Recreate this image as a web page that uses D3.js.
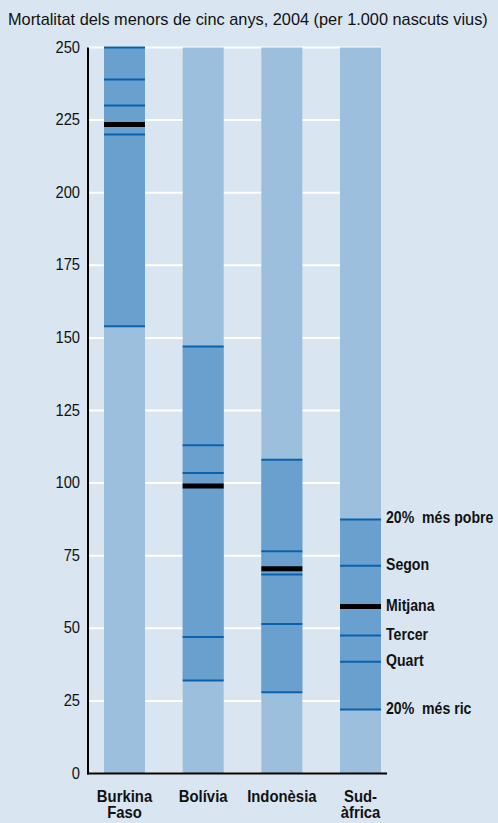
<!DOCTYPE html>
<html>
<head>
<meta charset="utf-8">
<script src="https://cdn.jsdelivr.net/npm/d3@7"></script>
<style>
  body { margin: 0; background: #d9e6f1; }
  svg text { font-family: "Liberation Sans Narrow", "Arial Narrow", "Liberation Sans", sans-serif; fill: #111; }
</style>
</head>
<body>
<div id="chart"></div>
<script>
var categories = ["Burkina Faso", "Bolívia", "Indonèsia", "Sud-àfrica"];
var categoryLines = [["Burkina", "Faso"], ["Bolívia"], ["Indonèsia"], ["Sud-", "àfrica"]];
var poorest = [250, 147, 108, 87.5];
var second = [239, 113, 76.5, 71.5];
var third = [230, 103.5, 68.5, 47.5];
var fourth = [220, 47, 51.5, 38.5];
var richest = [154, 32, 28, 22];
var mean = [223.5, 99, 70.5, 57.5];
var yTicks = [0, 25, 50, 75, 100, 125, 150, 175, 200, 225, 250];
var groupLabels = ["20%  més pobre", "Segon", "Mitjana", "Tercer", "Quart", "20%  més ric"];

var W = 498, H = 823;
var svg = d3.select("#chart").append("svg")
    .attr("width", W)
    .attr("height", H);

// condensed-looking text: put it in a group squeezed along x
function squeezed(parent, px, py, f) {
    return parent.append("g")
        .attr("transform", "translate(" + px + "," + py + ") scale(" + f + ",1)")
        .append("text");
}

svg.append("rect").attr("width", W).attr("height", H).attr("fill", "#d9e6f1");

var title = squeezed(svg, 8, 25, 1)
    .style("font-size", "17px")
    .text("Mortalitat dels menors de cinc anys, 2004 (per 1.000 nascuts vius)");
var tl = title.node().getComputedTextLength();
d3.select(title.node().parentNode).attr("transform", "translate(8,25) scale(" + (480 / tl) + ",1)");

var y = d3.scaleLinear().domain([0, 250]).range([773.5, 47.5]);
var x = d3.scalePoint().domain(categories).range([124.5, 360.5]);
var bw = 41;

// gridlines
svg.selectAll("line.grid")
    .data(yTicks)
    .enter()
    .append("line")
    .attr("class", "grid")
    .attr("x1", 88)
    .attr("x2", 381)
    .attr("y1", function (d) { return y(d); })
    .attr("y2", function (d) { return y(d); })
    .attr("stroke", "#fff")
    .attr("stroke-width", 2);

// full bars
svg.selectAll("rect.full")
    .data(categories)
    .enter()
    .append("rect")
    .attr("class", "full")
    .attr("x", function (d) { return x(d) - bw / 2; })
    .attr("y", y(250))
    .attr("width", bw)
    .attr("height", y(0) - y(250))
    .attr("fill", "#9bbfdd");

// range between quintiles
svg.selectAll("rect.range")
    .data(categories)
    .enter()
    .append("rect")
    .attr("class", "range")
    .attr("x", function (d) { return x(d) - bw / 2; })
    .attr("y", function (d, i) { return y(poorest[i]); })
    .attr("width", bw)
    .attr("height", function (d, i) { return y(richest[i]) - y(poorest[i]); })
    .attr("fill", "#69a0cd");

var quintiles = [poorest, second, third, fourth, richest];
categories.forEach(function (c, i) {
    quintiles.forEach(function (q) {
        svg.append("line")
            .attr("x1", x(c) - bw / 2)
            .attr("x2", x(c) + bw / 2)
            .attr("y1", y(q[i]))
            .attr("y2", y(q[i]))
            .attr("stroke", "#0b62ac")
            .attr("stroke-width", 2);
    });
    svg.append("line")
        .attr("x1", x(c) - bw / 2)
        .attr("x2", x(c) + bw / 2)
        .attr("y1", y(mean[i]))
        .attr("y2", y(mean[i]))
        .attr("stroke", "#000")
        .attr("stroke-width", 5);
});

// y axis labels, drawn from the scale's ticks
var yAxis = d3.axisLeft(y).tickValues(yTicks).tickSize(0).tickPadding(0);
var gy = svg.append("g").attr("transform", "translate(80,0)").call(yAxis);
gy.select(".domain").remove();
gy.selectAll(".tick").attr("transform", function (d) { return "translate(0," + y(d) + ") scale(0.92,1)"; });
gy.selectAll("text").attr("x", 0).style("font-size", "16px").style("font-family", null).style("fill", "#111");

svg.append("line")
    .attr("x1", 88).attr("x2", 88)
    .attr("y1", y(250)).attr("y2", y(0) + 1)
    .attr("stroke", "#000").attr("stroke-width", 2);
svg.append("line")
    .attr("x1", 87).attr("x2", 387)
    .attr("y1", y(0)).attr("y2", y(0))
    .attr("stroke", "#000").attr("stroke-width", 2);

// category labels
categories.forEach(function (c, i) {
    categoryLines[i].forEach(function (l, j) {
        squeezed(svg, x(c), 802 + j * 16, 0.93)
            .attr("text-anchor", "middle")
            .style("font-size", "16px")
            .style("font-weight", "bold")
            .text(l);
    });
});

// group labels beside last bar
var last = categories.length - 1;
var labelVals = [poorest[last], second[last], mean[last], third[last], fourth[last], richest[last]];
groupLabels.forEach(function (lab, i) {
    squeezed(svg, 386, y(labelVals[i]) + 4, 0.83)
        .style("font-size", "17px")
        .style("font-weight", "bold")
        .style("white-space", "pre")
        .text(lab);
});
</script>
</body>
</html>
